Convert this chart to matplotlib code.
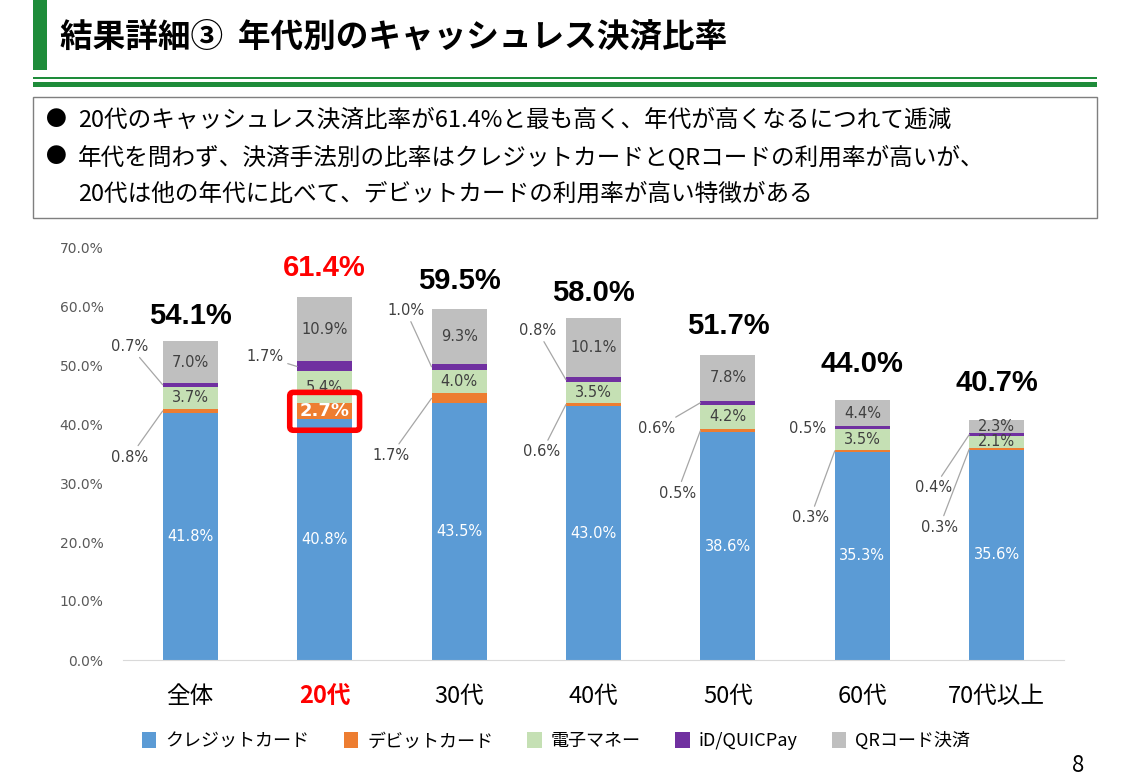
import numpy as np
import matplotlib
matplotlib.use("Agg")
import matplotlib.pyplot as plt
from matplotlib.patches import Rectangle

plt.rcParams['font.family'] = ['Noto Sans CJK JP', 'DejaVu Sans']

categories = ['全体', '20代', '30代', '40代', '50代', '60代', '70代以上']
series_names = ['クレジットカード', 'デビットカード', '電子マネー', 'iD/QUICPay', 'QRコード決済']
credit = [41.8, 40.8, 43.5, 43.0, 38.6, 35.3, 35.6]
debit = [0.8, 2.7, 1.7, 0.6, 0.5, 0.3, 0.3]
emoney = [3.7, 5.4, 4.0, 3.5, 4.2, 3.5, 2.1]
idquic = [0.7, 1.7, 1.0, 0.8, 0.6, 0.5, 0.4]
qr = [7.0, 10.9, 9.3, 10.1, 7.8, 4.4, 2.3]
totals = [54.1, 61.4, 59.5, 58.0, 51.7, 44.0, 40.7]

title = '結果詳細③  年代別のキャッシュレス決済比率'
bullets = ['20代のキャッシュレス決済比率が61.4%と最も高く、年代が高くなるにつれて逓減',
           '年代を問わず、決済手法別の比率はクレジットカードとQRコードの利用率が高いが、',
           '20代は他の年代に比べて、デビットカードの利用率が高い特徴がある']

colors = ['#5B9BD5', '#ED7D31', '#C5E0B4', '#7030A0', '#BFBFBF']
GREEN = '#1E8C3A'
W, H = 1130, 778

fig = plt.figure(figsize=(W / 100, H / 100), dpi=100)

# ---- header / text box (pixel overlay) ----
ov = fig.add_axes([0, 0, 1, 1])
ov.set_xlim(0, W)
ov.set_ylim(H, 0)
ov.axis('off')
ov.add_patch(Rectangle((33, 0), 14, 70, color=GREEN, lw=0))
ov.text(60, 37, title, fontsize=23.5, fontweight='bold', va='center', ha='left')
ov.add_patch(Rectangle((33, 77), 1064, 2, color=GREEN, lw=0))
ov.add_patch(Rectangle((33, 82), 1064, 4.5, color=GREEN, lw=0))
ov.add_patch(Rectangle((33, 97), 1064, 121, fill=False, ec='#7F7F7F', lw=1))
for k, (yy, txt) in enumerate(zip([120, 157, 194], bullets)):
    if k < 2:
        ov.text(46, yy, '●', fontsize=15, va='center', ha='left')
    ov.text(78, yy, txt, fontsize=17, va='center', ha='left')
ov.text(1078, 765, '8', fontsize=16, va='center', ha='center')

# ---- chart ----
ax = fig.add_axes([123 / W, 118 / H, 941 / W, 413 / H])
x = np.arange(len(categories))
bw = 0.41
bottom = np.zeros(len(categories))
bars = []
for vals, col, name in zip([credit, debit, emoney, idquic, qr], colors, series_names):
    b = ax.bar(x, vals, bw, bottom=bottom, color=col, label=name, lw=0)
    bars.append(b)
    bottom = bottom + np.array(vals)

ax.set_xlim(-0.5, len(categories) - 0.5)
ax.set_ylim(0, 70)
ax.set_yticks(np.arange(0, 71, 10))
ax.set_yticklabels([f'{v:.1f}%' for v in np.arange(0, 71, 10)], fontsize=10, color='#595959',
                   family='DejaVu Sans')
ax.tick_params(axis='y', length=0, pad=14)
ax.tick_params(axis='x', length=0, pad=18)
ax.set_xticks(x)
ax.set_xticklabels(categories, fontsize=17)
for lbl in ax.get_xticklabels():
    if lbl.get_text() == '20代':
        lbl.set_color('#FF0000')
        lbl.set_fontweight('bold')
for s in ['top', 'right', 'left']:
    ax.spines[s].set_visible(False)
ax.spines['bottom'].set_color('#D9D9D9')

# inside labels
lab_font = dict(fontsize=10.5, ha='center', va='center', family='DejaVu Sans')
for i in range(len(categories)):
    ax.text(x[i], credit[i] / 2, f'{credit[i]:.1f}%', color='white', **lab_font)
    base = credit[i] + debit[i]
    ax.text(x[i], base + emoney[i] / 2, f'{emoney[i]:.1f}%', color='#404040', **lab_font)
    base2 = base + emoney[i] + idquic[i]
    ax.text(x[i], base2 + qr[i] / 2, f'{qr[i]:.1f}%', color='#404040', **lab_font)

# highlighted debit label for 20代
ax.text(x[1], credit[1] + debit[1] / 2, f'{debit[1]:.1f}%', color='white', fontsize=13,
        fontweight='bold', ha='center', va='center', family='DejaVu Sans',
        bbox=dict(boxstyle='round,pad=0.55,rounding_size=0.2', fc='none', ec='#FF0000', lw=4))

# leader labels (label positions in data coords)
debit_pos = [(-0.31, 34.4), None, (1.63, 34.7), (2.755, 35.3), (3.76, 28.3), (4.75, 24.1), (5.71, 22.5)]
idq_pos = [(-0.31, 53.2), (0.695, 51.4), (1.74, 59.3), (2.72, 55.9), (3.61, 39.3), (4.73, 39.2), (5.67, 29.2)]
idq_line = [True, True, True, True, True, False, True]
lead = dict(arrowstyle='-', color='#A6A6A6', lw=0.9, shrinkA=1, shrinkB=0)
for i in range(len(categories)):
    xl = x[i] - bw / 2
    if debit_pos[i] is not None:
        ax.annotate(f'{debit[i]:.1f}%', xy=(xl, credit[i] + debit[i] / 2), xytext=debit_pos[i],
                    ha='right', va='center', fontsize=10.5, color='#404040', family='DejaVu Sans',
                    arrowprops=lead)
    yb = credit[i] + debit[i] + emoney[i] + idquic[i] / 2
    ax.annotate(f'{idquic[i]:.1f}%', xy=(xl, yb), xytext=idq_pos[i],
                ha='right', va='center', fontsize=10.5, color='#404040', family='DejaVu Sans',
                arrowprops=lead if idq_line[i] else None)

# totals
tot_off = [25, 30, 28, 25, 29, 36, 37]
for i in range(len(categories)):
    ax.annotate(f'{totals[i]:.1f}%', xy=(x[i], totals[i]), xytext=(0, tot_off[i]),
                textcoords='offset pixels', ha='center', va='center', fontsize=21,
                fontweight='bold', family='Liberation Sans',
                color='#FF0000' if i == 1 else 'black')

fig.legend(handles=bars, labels=series_names, loc='center', bbox_to_anchor=(556 / W, 1 - 741 / H),
           ncol=5, frameon=False, fontsize=13, handlelength=0.8, handleheight=1.0,
           columnspacing=1.9, handletextpad=0.5)

fig.savefig('out.png', dpi=100)
